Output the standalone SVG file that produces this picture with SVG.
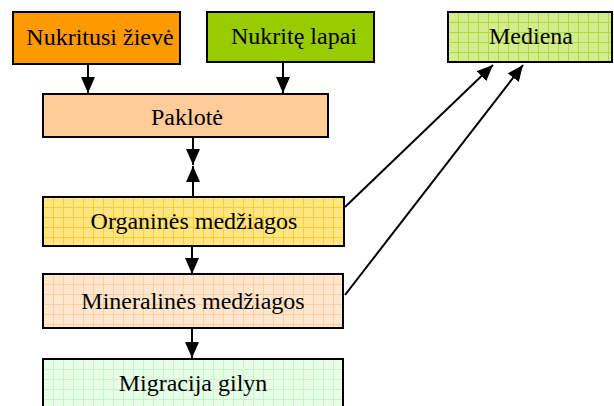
<svg xmlns="http://www.w3.org/2000/svg" width="614" height="406" viewBox="0 0 614 406">
<style>
.box{stroke:#000;stroke-width:2}
.t{font-family:"Liberation Serif","Times New Roman",serif;font-size:24px;fill:#000;text-anchor:middle}
.c{stroke:#000;stroke-width:2;fill:none}
</style>
<defs>
<pattern id="gMed" width="10" height="10" patternUnits="userSpaceOnUse" x="448" y="12">
<rect width="10" height="10" fill="#D2EC8E"/>
<path d="M0 0.5H10M0.5 0V10" stroke="#AEDA3A" stroke-width="1"/>
</pattern>
<pattern id="gOrg" width="10" height="10" patternUnits="userSpaceOnUse" x="43" y="197">
<rect width="10" height="10" fill="#FFE680"/>
<path d="M0 0.5H10M0.5 0V10" stroke="#FFCC33" stroke-width="1"/>
</pattern>
<pattern id="gMin" width="10" height="10" patternUnits="userSpaceOnUse" x="43" y="274">
<rect width="10" height="10" fill="#FFE6CF"/>
<path d="M0 0.5H10M0.5 0V10" stroke="#FFCFA0" stroke-width="1"/>
</pattern>
<pattern id="gMig" width="10" height="10" patternUnits="userSpaceOnUse" x="43" y="359">
<rect width="10" height="10" fill="#E6FFE6"/>
<path d="M0 0.5H10M0.5 0V10" stroke="#CCF2CC" stroke-width="1"/>
</pattern>
<marker id="ah" markerWidth="10" markerHeight="10" viewBox="0 0 10 10" refX="10" refY="5" orient="auto" markerUnits="userSpaceOnUse">
<path d="M0 0L10 5L0 10Z" fill="#000"/>
</marker>
<marker id="ahL" markerWidth="16" markerHeight="14" viewBox="0 0 16 14" refX="16" refY="7" orient="auto" markerUnits="userSpaceOnUse">
<path d="M0 0L16 7L0 14Z" fill="#000"/>
</marker>
</defs>
<g id="connectors">
<line class="c" x1="88" y1="64" x2="88" y2="93" marker-end="url(#ahL)"/>
<line class="c" x1="283" y1="62" x2="283" y2="93" marker-end="url(#ahL)"/>
<line class="c" x1="193" y1="137" x2="193" y2="165" marker-end="url(#ahL)"/>
<line class="c" x1="193" y1="197" x2="193" y2="166" marker-end="url(#ahL)"/>
<line class="c" x1="192" y1="246" x2="192" y2="274" marker-end="url(#ahL)"/>
<line class="c" x1="192" y1="328" x2="192" y2="358" marker-end="url(#ahL)"/>
<line class="c" x1="345" y1="207" x2="493" y2="65" marker-end="url(#ahL)"/>
<line class="c" x1="345" y1="295" x2="523" y2="65" marker-end="url(#ahL)"/>
</g>
<g id="zieve">
<rect class="box" x="13" y="12" width="167" height="52" fill="#FF9900"/>
<text class="t" x="100" y="45">Nukritusi žievė</text>
</g>
<g id="lapai">
<rect class="box" x="207" y="12" width="167" height="50" fill="#99CC00"/>
<text class="t" x="294" y="44">Nukritę lapai</text>
</g>
<g id="mediena">
<rect class="box" x="448" y="12" width="164" height="50" fill="url(#gMed)"/>
<text class="t" x="531" y="44">Mediena</text>
</g>
<g id="paklote">
<rect class="box" x="43" y="94" width="285" height="43" fill="#FFCC99"/>
<text class="t" x="187" y="125">Paklotė</text>
</g>
<g id="organines">
<rect class="box" x="43" y="197" width="301" height="49" fill="url(#gOrg)"/>
<text class="t" x="194" y="229">Organinės medžiagos</text>
</g>
<g id="mineralines">
<rect class="box" x="43" y="274" width="300" height="54" fill="url(#gMin)"/>
<text class="t" x="193" y="309">Mineralinės medžiagos</text>
</g>
<g id="migracija">
<rect class="box" x="43" y="359" width="300" height="60" fill="url(#gMig)"/>
<text class="t" x="193" y="391">Migracija gilyn</text>
</g>
</svg>
